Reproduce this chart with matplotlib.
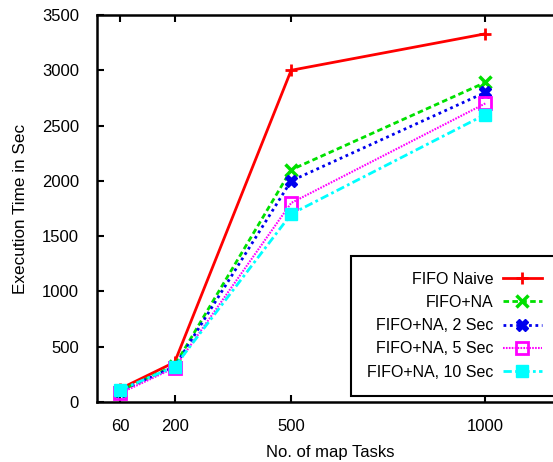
import matplotlib
matplotlib.use('Agg')
import matplotlib.pyplot as plt

plt.rcParams['font.family'] = ['Liberation Sans', 'DejaVu Sans']

map_tasks = [60, 200, 500, 1000]
fifo_naive = [120, 360, 3000, 3330]
fifo_na = [100, 330, 2100, 2890]
fifo_na_2s = [100, 320, 2000, 2800]
fifo_na_5s = [80, 310, 1800, 2700]
fifo_na_10s = [110, 320, 1700, 2600]

labels = ['FIFO Naive', 'FIFO+NA', 'FIFO+NA, 2 Sec', 'FIFO+NA, 5 Sec', 'FIFO+NA, 10 Sec']
x_ticks = [60, 200, 500, 1000]
y_ticks = [0, 500, 1000, 1500, 2000, 2500, 3000, 3500]

fig = plt.figure(figsize=(5.53, 4.62), dpi=100)
# axes run past the right edge of the figure, like the cropped gnuplot output
ax = fig.add_axes([97 / 553, 60 / 462, (563 - 97) / 553, 387 / 462])

ax.plot(map_tasks, fifo_naive, color='#ff0000', lw=2, ls='-',
        marker='+', ms=9, mew=2, label=labels[0])
ax.plot(map_tasks, fifo_na, color='#00e000', lw=2, ls=(0, (2, 1.2)),
        marker='x', ms=8, mew=2.5, label=labels[1])
ax.plot(map_tasks, fifo_na_2s, color='#0000ee', lw=2, ls=(0, (1, 1.3)),
        marker='X', ms=8, mew=1, label=labels[2])
ax.plot(map_tasks, fifo_na_5s, color='#ff00ff', lw=1.5, ls=(0, (0.8, 0.6)),
        marker='s', ms=8, mew=2, mfc='none', label=labels[3])
ax.plot(map_tasks, fifo_na_10s, color='#00ffff', lw=2, ls=(0, (3, 1.2, 1, 1.2)),
        marker='s', ms=8, mew=1, label=labels[4])

ax.set_xlim(0, 1200)
ax.set_ylim(0, 3500)
ax.set_xticks(x_ticks)
ax.set_yticks(y_ticks)
ax.tick_params(direction='in', length=5, width=1.5, labelsize=12,
               top=True, right=True)
ax.tick_params(axis='y', pad=13)
ax.tick_params(axis='x', pad=12)
for s in ax.spines.values():
    s.set_linewidth(1.8)

ax.set_xlabel('No. of map Tasks', fontsize=12, labelpad=8)
ax.set_ylabel('Execution Time in Sec', fontsize=12.3, labelpad=10)

leg = ax.legend(loc='lower right', bbox_to_anchor=(0.995, 0.008), markerfirst=False,
                fontsize=11.5, fancybox=False, framealpha=1, edgecolor='black',
                handlelength=2.4, handletextpad=0.6, labelspacing=0.52,
                borderpad=1.0, borderaxespad=0.2)
leg.get_frame().set_linewidth(1.5)

fig.savefig('out.png', dpi=100)
